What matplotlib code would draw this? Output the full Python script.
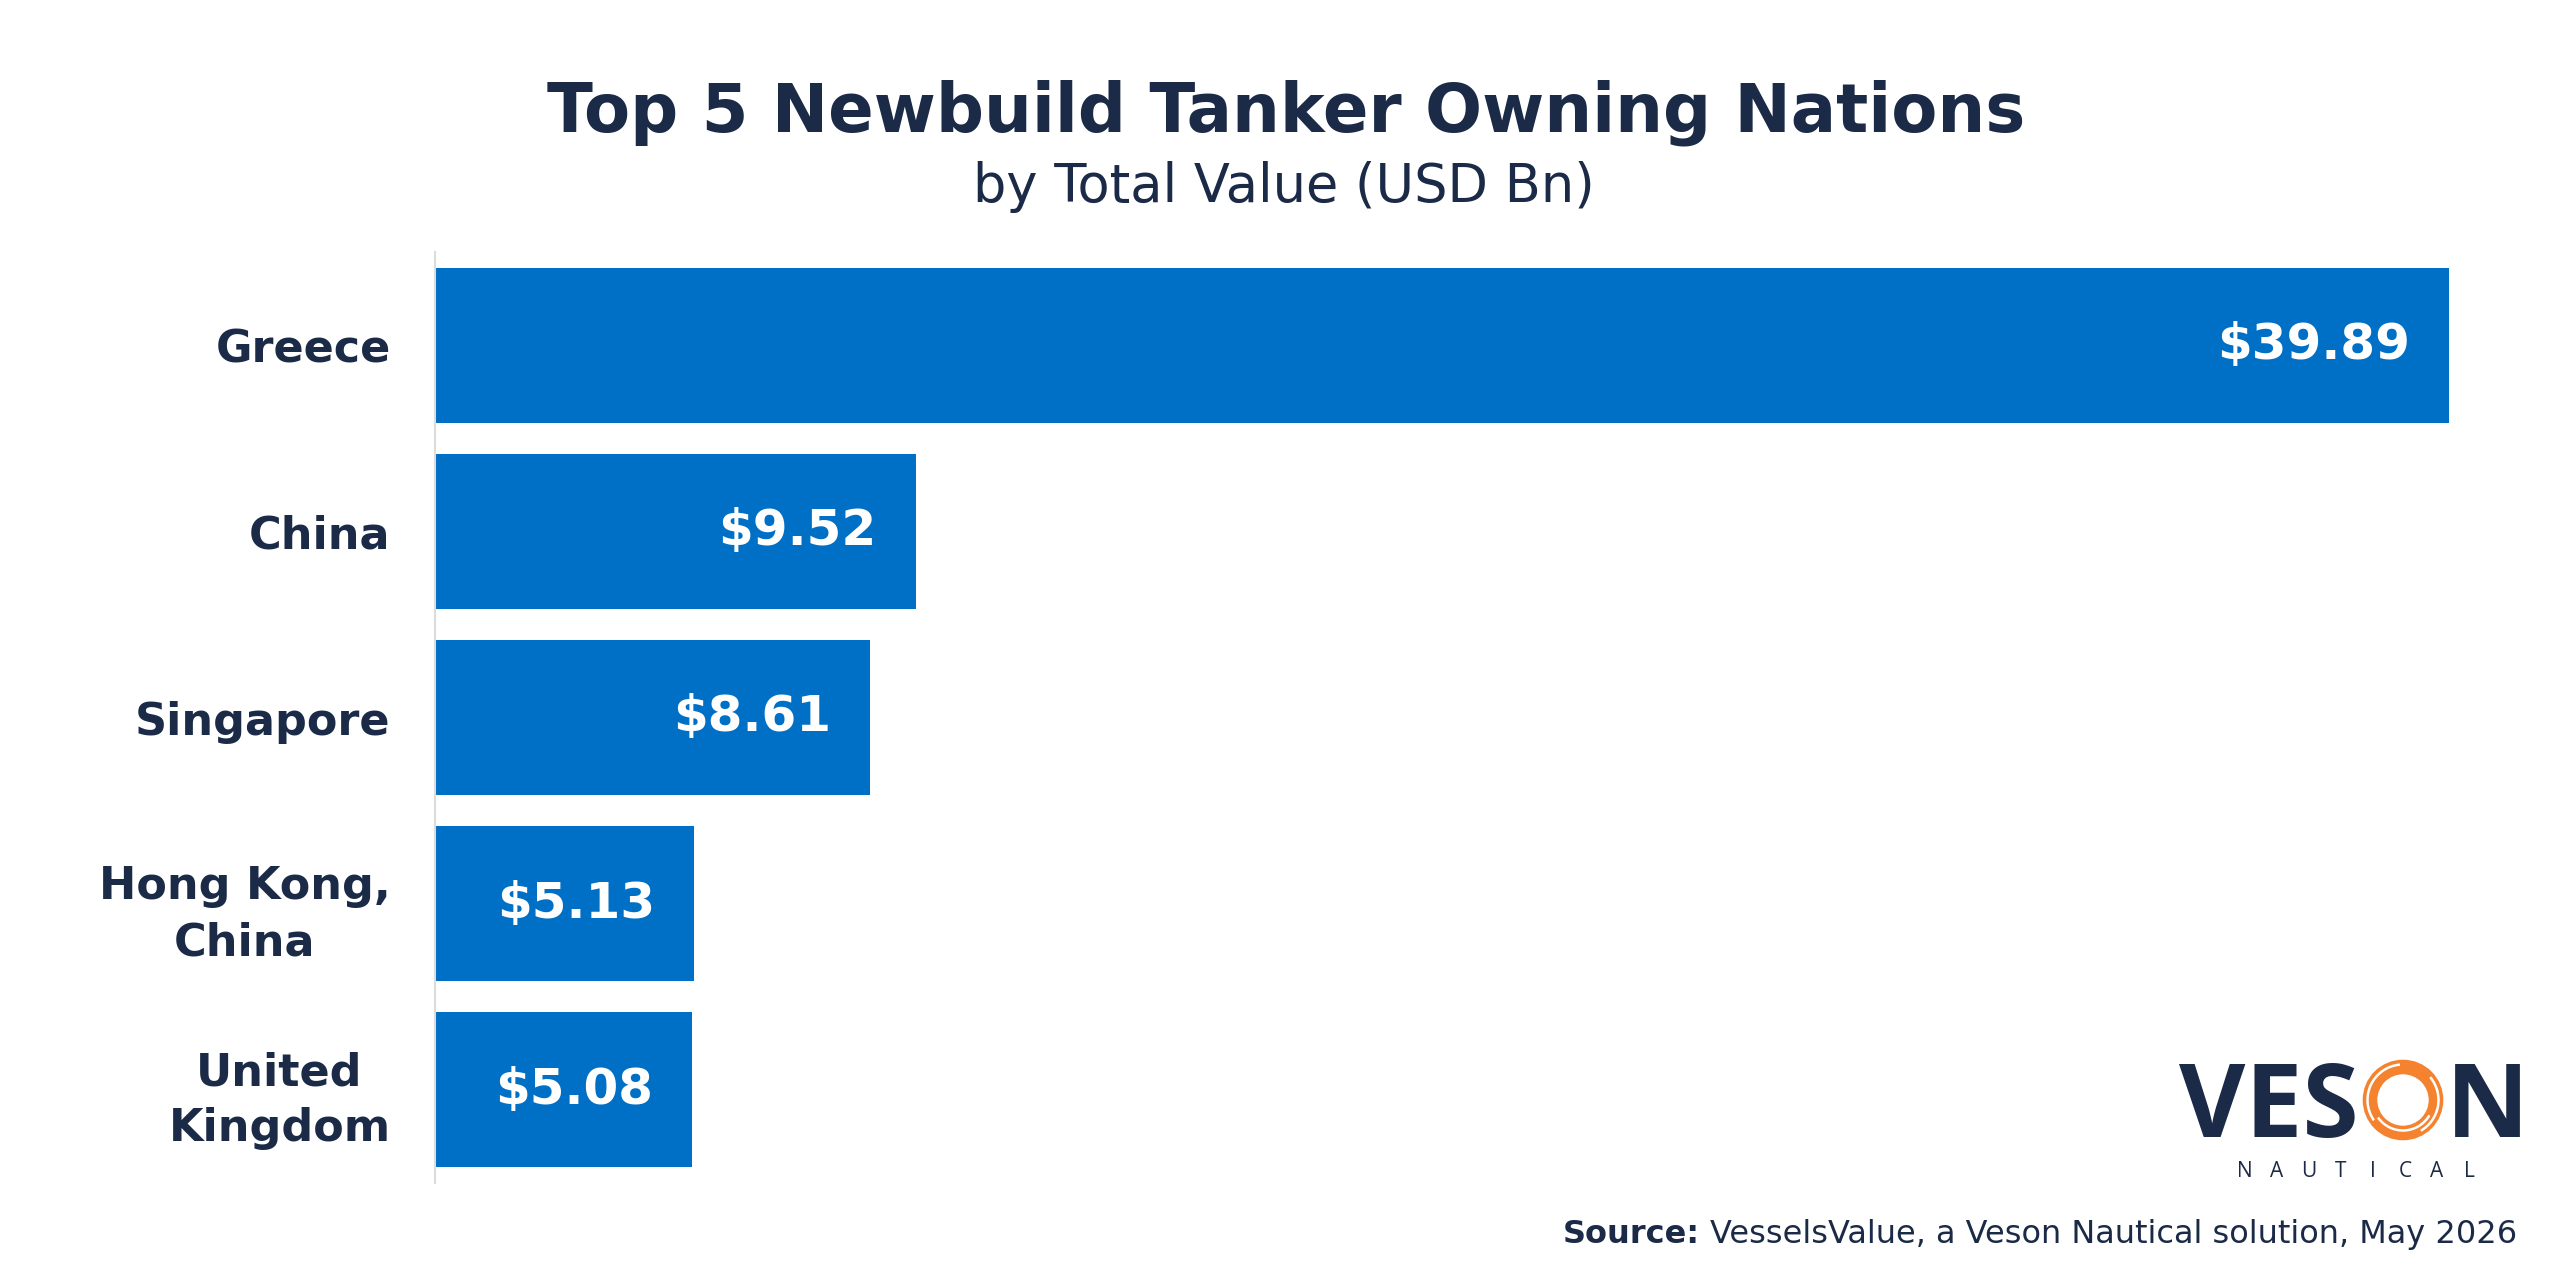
import matplotlib
matplotlib.use("Agg")
import matplotlib.pyplot as plt
from matplotlib.patches import Circle, Arc

# ---------------- data ----------------
countries = ["Greece", "China", "Singapore", "Hong Kong,\nChina", "United\nKingdom"]
values = [39.89, 9.52, 8.61, 5.13, 5.08]
value_labels = ["$39.89", "$9.52", "$8.61", "$5.13", "$5.08"]

title = "Top 5 Newbuild Tanker Owning Nations"
subtitle = "by Total Value (USD Bn)"
source_bold = "Source:"
source_rest = "VesselsValue, a Veson Nautical solution, May 2026"

# ---------------- style ----------------
NAVY = "#1b2a47"
BLUE = "#0070c6"
ORANGE = "#f5822f"
W, H = 2560, 1283
FONT = "DejaVu Sans"
plt.rcParams["font.family"] = [FONT]

fig = plt.figure(figsize=(W / 100, H / 100), dpi=100)
fig.patch.set_facecolor("white")


def fx(x):
    return x / W


def fy(y):
    return 1 - y / H


renderer = fig.canvas.get_renderer()


def fit(t, target_px):
    """scale font size so rendered width matches target width in pixels"""
    for _ in range(3):
        w = t.get_window_extent(renderer).width
        t.set_fontsize(t.get_fontsize() * target_px / w)


# ---------------- axes ----------------
ax = fig.add_axes([fx(435), fy(1183), 2020 / W, 931 / H])
ypos = list(range(len(countries)))
ax.barh(ypos, values, height=0.833, color=BLUE, zorder=2)
ax.set_ylim(len(countries) - 0.5, -0.5)
ax.set_xlim(0, 40.0)
ax.set_xticks([])
ax.set_yticks(ypos, countries)
for s in ["top", "right", "bottom"]:
    ax.spines[s].set_visible(False)
ax.spines["left"].set_color("#dcdcdc")
ax.spines["left"].set_linewidth(1.5)
ax.tick_params(axis="y", length=0, pad=32, labelsize=32, labelcolor=NAVY)
for lab in ax.get_yticklabels():
    lab.set_fontweight("bold")
    lab.set_multialignment("center")
    lab.set_linespacing(1.38)
    lab.set_verticalalignment("center_baseline")

for i, (v, lbl) in enumerate(zip(values, value_labels)):
    ax.annotate(lbl, xy=(v, i), xytext=(-28, 0), textcoords="offset points",
                ha="right", va="center", color="white", fontsize=36,
                fontweight="bold", parse_math=False)

# ---------------- titles ----------------
t1 = fig.text(fx(1286), fy(131), title, ha="center", va="baseline",
              fontsize=48, fontweight="bold", color=NAVY)
fit(t1, 1478)
t2 = fig.text(fx(1284), fy(202), subtitle, ha="center", va="baseline",
              fontsize=36, color=NAVY)
fit(t2, 622)

# ---------------- source ----------------
s2 = fig.text(fx(2517), fy(1243), source_rest, ha="right", va="baseline",
              fontsize=22, color=NAVY)
fit(s2, 807)
x0 = s2.get_window_extent(renderer).x0
s1 = fig.text((x0 - 10) / W, fy(1243), source_bold, ha="right", va="baseline",
              fontsize=s2.get_fontsize(), fontweight="bold", color=NAVY)

# ---------------- logo ----------------
ves = fig.text(fx(2179), fy(1137), "VES", ha="left", va="baseline",
               fontsize=70, fontweight="bold", color=NAVY,
               family=["Open Sans", FONT])
fit(ves, 180)
nt = fig.text(fx(2446), fy(1137), "N", ha="left", va="baseline",
              fontsize=ves.get_fontsize(), fontweight="bold", color=NAVY,
              family=["Open Sans", FONT])

tr = fig.dpi_scale_trans
ocx, ocy = 2403 / 100, (H - 1100) / 100
fig.add_artist(Circle((ocx, ocy), 0.33, fill=False, lw=10.5, ec=ORANGE,
                      transform=tr))
fig.add_artist(Arc((ocx, ocy), 0.71, 0.71, theta1=95, theta2=215, lw=1.8,
                   color="white", transform=tr))
fig.add_artist(Arc((ocx, ocy), 0.71, 0.71, theta1=300, theta2=40, lw=1.8,
                   color="white", transform=tr))
fig.add_artist(Arc((ocx, ocy), 0.61, 0.61, theta1=215, theta2=330, lw=1.8,
                   color="white", transform=tr))

for ch, cx in zip("NAUTICAL", [2245 + 32 * k for k in range(8)]):
    fig.text(fx(cx), fy(1177), ch, ha="center", va="baseline", fontsize=15,
             color=NAVY, family=["Open Sans", FONT])

fig.savefig("out.png", dpi=100, facecolor="white")
